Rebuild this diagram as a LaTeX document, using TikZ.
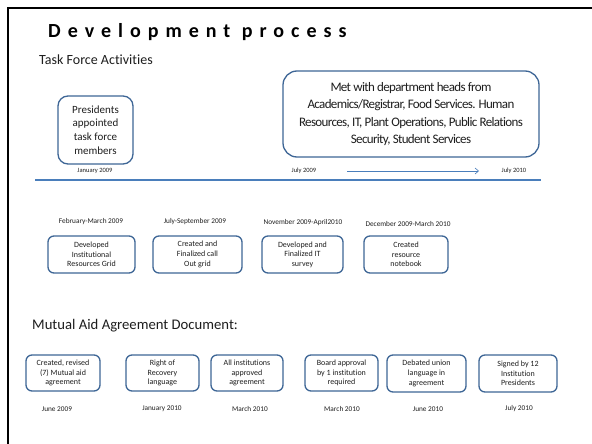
\documentclass[tikz,border=0pt]{standalone}
\usepackage{fontspec}
\setmainfont{Carlito}[RawFeature=-liga]
\usetikzlibrary{arrows.meta}
\definecolor{boxblue}{RGB}{62,102,150}
\definecolor{lineblue}{RGB}{74,126,187}
\definecolor{txt}{RGB}{30,30,30}
\begin{document}
\begin{tikzpicture}[x=1pt,y=-1pt,
  box/.style={draw=boxblue, line width=1.3pt, rounded corners=6pt, align=center,
              inner sep=0pt, font=\fontsize{8}{9.6}\selectfont, text=txt},
  datelbl/.style={font=\fontsize{7.3}{8}\selectfont, text=txt, inner sep=0pt},
  tdate/.style={font=\fontsize{6.5}{7}\selectfont, text=txt, inner sep=0pt}]
\useasboundingbox (0,0) rectangle (592,444);
\fill[white] (0,0) rectangle (592,444);
\draw[line width=2.5pt] (8,444) -- (8,8) -- (592,8);

\node[anchor=base west, inner sep=0pt, text=black,
      font=\fontsize{20}{24}\selectfont\bfseries\addfontfeature{LetterSpace=35}] (title) at (48,38) {Development process};
\node[anchor=base west, inner sep=0pt, text=txt, font=\fontsize{14}{16}\selectfont] (task) at (39,65) {Task Force Activities};

\node[box, rounded corners=10pt, minimum width=75pt, minimum height=68pt,
      font=\fontsize{11}{13.6}\selectfont] (pres) at (95.5,130) {Presidents\\appointed\\task force\\members};
\node[box, rounded corners=14pt, minimum width=256pt, minimum height=86pt,
      font=\fontsize{13}{17.4}\selectfont\addfontfeature{LetterSpace=-5}] (met) at (411,114)
  {Met with department heads from\\Academics/Registrar, Food Services. Human\\Resources, IT, Plant Operations, Public Relations\\Security, Student Services};

\node[tdate] (jan09) at (95,171) {January 2009};
\node[tdate] (jul09) at (304,171) {July 2009};
\node[tdate] (jul10) at (514,171) {July 2010};
\coordinate (arrS) at (347,171);
\coordinate (arrE) at (479,171);
\draw[lineblue, line width=0.6pt, -{Straight Barb[length=3.5pt,width=6pt]}] (arrS) -- (arrE);
\coordinate (tlS) at (35,180);
\coordinate (tlE) at (541,180);
\draw[lineblue, line width=1.2pt] (tlS) -- (tlE);

\node[datelbl] (d1) at (91,222) {February-March 2009};
\node[datelbl] (d2) at (195,222) {July-September 2009};
\node[datelbl] (d3) at (303,223) {November 2009-April2010};
\node[datelbl] (d4) at (408,224) {December 2009-March 2010};
\node[box, minimum width=87pt, minimum height=37pt] (b1) at (91.5,254.5) {Developed\\Institutional\\Resources Grid};
\node[box, minimum width=89pt, minimum height=37pt] (b2) at (197.5,254.5) {Created and\\Finalized call\\Out grid};
\node[box, minimum width=81pt, minimum height=37pt] (b3) at (302.5,254.5) {Developed and\\Finalized IT\\survey};
\node[box, minimum width=84pt, minimum height=37pt] (b4) at (406,254.5) {Created\\resource\\notebook};

\node[anchor=base west, inner sep=0pt, text=txt, font=\fontsize{14.7}{17}\selectfont] (mutual) at (32,329) {Mutual Aid Agreement Document:};

\node[box, minimum width=74pt, minimum height=36pt] (m1) at (63,373) {Created, revised\\(7) Mutual aid\\agreement};
\node[box, minimum width=73pt, minimum height=36pt] (m2) at (162.5,373) {Right of\\Recovery\\language};
\node[box, minimum width=72pt, minimum height=36pt] (m3) at (247,373) {All institutions\\approved\\agreement};
\node[box, minimum width=73pt, minimum height=36pt] (m4) at (341.5,373) {Board approval\\by 1 institution\\required};
\node[box, minimum width=79pt, minimum height=37pt] (m5) at (426.5,373.5) {Debated union\\language in\\agreement};
\node[box, minimum width=78pt, minimum height=37pt] (m6) at (518,373.5) {Signed by 12\\Institution\\Presidents};

\node[datelbl] (e1) at (57,409) {June 2009};
\node[datelbl] (e2) at (162,409) {January 2010};
\node[datelbl] (e3) at (250,409) {March 2010};
\node[datelbl] (e4) at (342,409) {March 2010};
\node[datelbl] (e5) at (428,409) {June 2010};
\node[datelbl] (e6) at (519,409) {July 2010};
\end{tikzpicture}
\end{document}
